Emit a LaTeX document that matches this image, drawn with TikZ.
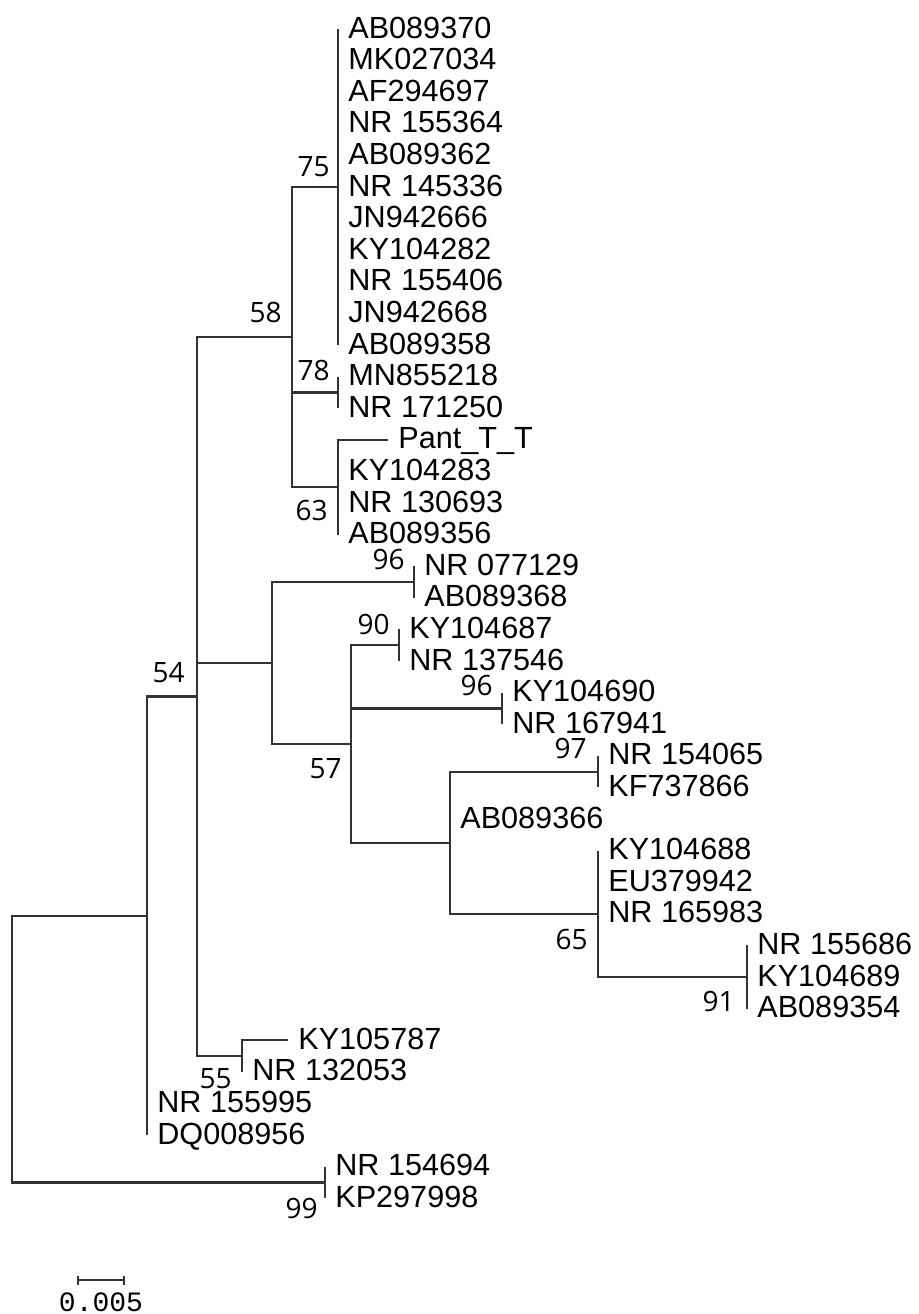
\documentclass[tikz,border=0pt]{standalone}
\usepackage{fontspec}
\setmainfont{Liberation Sans}
\newfontfamily\bootfont{Open Sans}
\newfontfamily\barfont{Liberation Mono}
\usetikzlibrary{positioning}

\begin{document}
\begin{tikzpicture}[x=0.5pt, y=-0.5pt,
  leaf/.style={anchor=west, inner xsep=5pt, inner ysep=0pt,
               text height=11pt, text depth=2pt,
               font=\fontsize{15.3pt}{18pt}\selectfont},
  boot/.style={inner sep=0pt, font=\bootfont\fontsize{14pt}{16pt}\selectfont},
  br/.style={line width=1.1pt, draw=black!80}
]
  \useasboundingbox (0,0) rectangle (919,1314);

  % Inner nodes
  \coordinate (root) at (12,1049.1);
  \coordinate (nA)   at (147,915.8);
  \coordinate (n54)  at (197,696.5);
  \coordinate (n58)  at (292,337.1);
  \coordinate (n75)  at (338,187);
  \coordinate (n78)  at (338,392.4);
  \coordinate (n63)  at (338,487.2);
  \coordinate (nX)   at (272,663);
  \coordinate (n96a) at (414,582);
  \coordinate (n57)  at (351,743.9);
  \coordinate (n90)  at (399,645.2);
  \coordinate (n96b) at (502,708.4);
  \coordinate (nY)   at (450,842.6);
  \coordinate (n97)  at (598,771.6);
  \coordinate (n65)  at (598,913.7);
  \coordinate (n91)  at (747,976.8);
  \coordinate (n55)  at (242,1056);
  \coordinate (n99)  at (325,1182.4);

  % Leaves
  \node[leaf] (AB089370) at (338,29)    {AB089370};
  \node[leaf] (MK027034) at (338,60.6)  {MK027034};
  \node[leaf] (AF294697) at (338,92.2)  {AF294697};
  \node[leaf] (NR155364) at (338,123.8) {NR 155364};
  \node[leaf] (AB089362) at (338,155.4) {AB089362};
  \node[leaf] (NR145336) at (338,187)   {NR 145336};
  \node[leaf] (JN942666) at (338,218.6) {JN942666};
  \node[leaf] (KY104282) at (338,250.2) {KY104282};
  \node[leaf] (NR155406) at (338,281.8) {NR 155406};
  \node[leaf] (JN942668) at (338,313.4) {JN942668};
  \node[leaf] (AB089358) at (338,345)   {AB089358};
  \node[leaf] (MN855218) at (338,376.6) {MN855218};
  \node[leaf] (NR171250) at (338,408.2) {NR 171250};
  \node[leaf] (pant)     at (388,439.8) {Pant\_T\_T};
  \node[leaf] (KY104283) at (338,471.4) {KY104283};
  \node[leaf] (NR130693) at (338,503)   {NR 130693};
  \node[leaf] (AB089356) at (338,534.6) {AB089356};
  \node[leaf] (NR077129) at (414,566.2) {NR 077129};
  \node[leaf] (AB089368) at (414,597.8) {AB089368};
  \node[leaf] (KY104687) at (399,629.4) {KY104687};
  \node[leaf] (NR137546) at (399,661)   {NR 137546};
  \node[leaf] (KY104690) at (502,692.6) {KY104690};
  \node[leaf] (NR167941) at (502,724.2) {NR 167941};
  \node[leaf] (NR154065) at (598,755.8) {NR 154065};
  \node[leaf] (KF737866) at (598,787.4) {KF737866};
  \node[leaf] (AB089366) at (450,819)   {AB089366};
  \node[leaf] (KY104688) at (598,850.6) {KY104688};
  \node[leaf] (EU379942) at (598,882.2) {EU379942};
  \node[leaf] (NR165983) at (598,913.8) {NR 165983};
  \node[leaf] (NR155686) at (747,945.4) {NR 155686};
  \node[leaf] (KY104689) at (747,977)   {KY104689};
  \node[leaf] (AB089354) at (747,1008.6) {AB089354};
  \node[leaf] (KY105787) at (288,1040.2) {KY105787};
  \node[leaf] (NR132053) at (242,1071.8) {NR 132053};
  \node[leaf] (NR155995) at (147,1103.4) {NR 155995};
  \node[leaf] (DQ008956) at (147,1135)  {DQ008956};
  \node[leaf] (NR154694) at (325,1166.6) {NR 154694};
  \node[leaf] (KP297998) at (325,1198.2) {KP297998};

  % Bootstrap values
  \node[boot, above left=5pt and 4pt of n75]   (b75)  {75};
  \node[boot, above left=7pt and 5pt of n58]   (b58)  {58};
  \node[boot, above left=5.5pt and 4pt of n78] (b78)  {78};
  \node[boot, below left=6.5pt and 5pt of n63] (b63)  {63};
  \node[boot, above left=6pt and 4.5pt of n96a] (b96a) {96};
  \node[boot, above left=5pt and 4.5pt of n90] (b90)  {90};
  \node[boot, above left=6pt and 4.5pt of n96b] (b96b) {96};
  \node[boot, below left=7pt and 4.5pt of n57] (b57)  {57};
  \node[boot, above left=6.5pt and 6pt of n54] (b54)  {54};
  \node[boot, above left=6pt and 5.5pt of n97] (b97)  {97};
  \node[boot, below left=7.5pt and 5pt of n65] (b65)  {65};
  \node[boot, below left=7pt and 6pt of n91]   (b91)  {91};
  \node[boot, below left=6pt and 5pt of n55]   (b55)  {55};
  \node[boot, below left=7.5pt and 3.5pt of n99] (b99) {99};

  % Branches
  \draw[br] (root) |- (nA);  \draw[br] (root) |- (n99);
  \draw[br] (nA) |- (n54);
  \draw[br] (nA) |- (NR155995.west); \draw[br] (nA) |- (DQ008956.west);
  \draw[br] (n54) |- (n58); \draw[br] (n54) |- (nX); \draw[br] (n54) |- (n55);
  \draw[br] (n58) |- (n75); \draw[br] (n58) |- (n78); \draw[br] (n58) |- (n63);

  \draw[br] (n75) |- (AB089370.west); \draw[br] (n75) |- (MK027034.west);
  \draw[br] (n75) |- (AF294697.west); \draw[br] (n75) |- (NR155364.west);
  \draw[br] (n75) |- (AB089362.west); \draw[br] (n75) |- (NR145336.west);
  \draw[br] (n75) |- (JN942666.west); \draw[br] (n75) |- (KY104282.west);
  \draw[br] (n75) |- (NR155406.west); \draw[br] (n75) |- (JN942668.west);
  \draw[br] (n75) |- (AB089358.west);

  \draw[br] (n78) |- (MN855218.west); \draw[br] (n78) |- (NR171250.west);

  \draw[br] (n63) |- (pant.west);     \draw[br] (n63) |- (KY104283.west);
  \draw[br] (n63) |- (NR130693.west); \draw[br] (n63) |- (AB089356.west);

  \draw[br] (nX) |- (n96a); \draw[br] (nX) |- (n57);
  \draw[br] (n96a) |- (NR077129.west); \draw[br] (n96a) |- (AB089368.west);

  \draw[br] (n57) |- (n90); \draw[br] (n57) |- (n96b); \draw[br] (n57) |- (nY);
  \draw[br] (n90) |- (KY104687.west); \draw[br] (n90) |- (NR137546.west);
  \draw[br] (n96b) |- (KY104690.west); \draw[br] (n96b) |- (NR167941.west);

  \draw[br] (nY) |- (n97); \draw[br] (nY) |- (AB089366.west); \draw[br] (nY) |- (n65);
  \draw[br] (n97) |- (NR154065.west); \draw[br] (n97) |- (KF737866.west);
  \draw[br] (n65) |- (KY104688.west); \draw[br] (n65) |- (EU379942.west);
  \draw[br] (n65) |- (NR165983.west); \draw[br] (n65) |- (n91);
  \draw[br] (n91) |- (NR155686.west); \draw[br] (n91) |- (KY104689.west);
  \draw[br] (n91) |- (AB089354.west);

  \draw[br] (n55) |- (KY105787.west); \draw[br] (n55) |- (NR132053.west);
  \draw[br] (n99) |- (NR154694.west); \draw[br] (n99) |- (KP297998.west);

  % Scale bar
  \coordinate (sbl) at (78,1280);
  \coordinate (sbm) at (101,1280);
  \coordinate (sbr) at (124,1280);
  \draw[br] (sbl) -- (sbr);
  \draw[br] ([yshift=2.25pt]sbl) -- ([yshift=-2.25pt]sbl);
  \draw[br] ([yshift=2.25pt]sbr) -- ([yshift=-2.25pt]sbr);
  \node[inner sep=0pt, font=\barfont\fontsize{14pt}{16pt}\selectfont,
        below=6pt of sbm] (sbtxt) {0.005};

\end{tikzpicture}
\end{document}
